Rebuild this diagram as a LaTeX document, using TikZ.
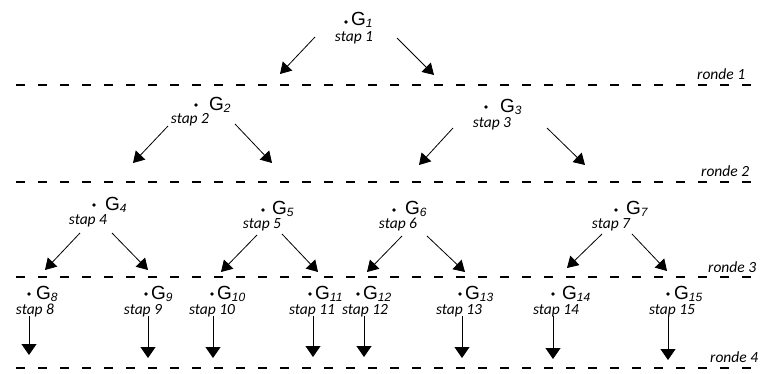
\documentclass[tikz,border=0pt]{standalone}
\usepackage{fontspec}
\setmainfont{Liberation Sans}
\newfontfamily\stapfont{Carlito}
\usetikzlibrary{arrows.meta}

% G with an italic index
\newcommand\gname[1]{G\raisebox{-2.5pt}{\fontsize{12}{12}\selectfont\itshape #1}}

\tikzset{
  dotn/.style={circle, fill=black, inner sep=0pt, minimum size=3.8pt},
  glab/.style={anchor=base west, inner sep=0pt, font=\fontsize{19}{19}\selectfont},
  staplab/.style={anchor=base, inner sep=0pt, font=\stapfont\itshape\fontsize{15.5}{15.5}\selectfont},
  rondelab/.style={anchor=base west, inner sep=0pt, font=\stapfont\itshape\fontsize{15.5}{15.5}\selectfont},
  roundline/.style={line width=1.3pt, dash pattern=on 9pt off 13pt},
  splitarrow/.style={line width=0.8pt, -{Triangle[width=13pt,length=11pt]}},
  downarrow/.style={line width=0.9pt, -{Triangle[width=15pt,length=11pt]}},
}

% #1 name, #2 dot, #3 G label position, #4 index, #5 stap position, #6 stap text
\newcommand\gvertex[6]{%
  \node[dotn] (#1) at (#2) {};
  \node[glab] (#1l) at (#3) {\gname{#4}};
  \node[staplab] (#1s) at (#5) {#6};
}

\begin{document}
\begin{tikzpicture}[x=1pt, y=-1pt]
  \useasboundingbox (0,0) rectangle (764,373);

  % round separators
  \coordinate (r1a) at (16,85);  \coordinate (r1b) at (758,85);
  \coordinate (r2a) at (16,182); \coordinate (r2b) at (758,182);
  \coordinate (r3a) at (16,277); \coordinate (r3b) at (758,277);
  \coordinate (r4a) at (16,368); \coordinate (r4b) at (758,368);
  \draw[roundline] (r1a) -- (r1b);
  \draw[roundline] (r2a) -- (r2b);
  \draw[roundline] (r3a) -- (r3b);
  \draw[roundline] (r4a) -- (r4b);
  \node[rondelab] (ronde1) at (697,79)  {ronde 1};
  \node[rondelab] (ronde2) at (701,176) {ronde 2};
  \node[rondelab] (ronde3) at (708,272) {ronde 3};
  \node[rondelab] (ronde4) at (710,362) {ronde 4};

  % level 1
  \gvertex{g1}{346,22}{351,25}{1}{354,41}{stap 1}
  \coordinate (g1a) at (315,37);  \coordinate (g1b) at (397,38);
  \coordinate (e1a) at (280,74);  \coordinate (e1b) at (434,75);
  \draw[splitarrow] (g1a) -- (e1a);
  \draw[splitarrow] (g1b) -- (e1b);

  % level 2
  \gvertex{g2}{196,105}{209,110}{2}{190,123}{stap 2}
  \coordinate (g2a) at (168,126); \coordinate (g2b) at (235,124);
  \coordinate (e2a) at (133,163); \coordinate (e2b) at (272,163);
  \draw[splitarrow] (g2a) -- (e2a);
  \draw[splitarrow] (g2b) -- (e2b);

  \gvertex{g3}{486,107}{500,112}{3}{492,127}{stap 3}
  \coordinate (g3a) at (453,128); \coordinate (g3b) at (547,128);
  \coordinate (e3a) at (419,165); \coordinate (e3b) at (585,165);
  \draw[splitarrow] (g3a) -- (e3a);
  \draw[splitarrow] (g3b) -- (e3b);

  % level 3
  \gvertex{g4}{94,205}{105,210}{4}{88,224}{stap 4}
  \coordinate (g4a) at (80,233);  \coordinate (g4b) at (112,233);
  \coordinate (e4a) at (45,270);  \coordinate (e4b) at (148,270);
  \draw[splitarrow] (g4a) -- (e4a);
  \draw[splitarrow] (g4b) -- (e4b);

  \gvertex{g5}{263,210}{272,214}{5}{262,228}{stap 5}
  \coordinate (g5a) at (257,235); \coordinate (g5b) at (282,234);
  \coordinate (e5a) at (221,272); \coordinate (e5b) at (318,272);
  \draw[splitarrow] (g5a) -- (e5a);
  \draw[splitarrow] (g5b) -- (e5b);

  \gvertex{g6}{394,210}{405,214}{6}{398,228}{stap 6}
  \coordinate (g6a) at (402,236); \coordinate (g6b) at (427,236);
  \coordinate (e6a) at (367,272); \coordinate (e6b) at (465,272);
  \draw[splitarrow] (g6a) -- (e6a);
  \draw[splitarrow] (g6b) -- (e6b);

  \gvertex{g7}{616,210}{626,214}{7}{611,228}{stap 7}
  \coordinate (g7a) at (602,234); \coordinate (g7b) at (632,234);
  \coordinate (e7a) at (567,268); \coordinate (e7b) at (667,271);
  \draw[splitarrow] (g7a) -- (e7a);
  \draw[splitarrow] (g7b) -- (e7b);

  % level 4
  \gvertex{g8}{29,294}{36,299}{8}{35,314}{stap 8}
  \gvertex{g9}{146,294}{151,299}{9}{143,314}{stap 9}
  \gvertex{g10}{212,294}{217,299}{10}{212,314}{stap 10}
  \gvertex{g11}{310,294}{315,299}{11}{312,314}{stap 11}
  \gvertex{g12}{358,294}{363,299}{12}{365,314}{stap 12}
  \gvertex{g13}{460,294}{465,299}{13}{459,314}{stap 13}
  \gvertex{g14}{553,294}{562,299}{14}{556,314}{stap 14}
  \gvertex{g15}{668,294}{674,299}{15}{672,314}{stap 15}

  \coordinate (g8t) at (29,316);   \coordinate (e8) at (29,355);
  \coordinate (g9t) at (148,316);  \coordinate (e9) at (148,358);
  \coordinate (g10t) at (213,316); \coordinate (e10) at (213,358);
  \coordinate (g11t) at (313,316); \coordinate (e11) at (313,357);
  \coordinate (g12t) at (364,316); \coordinate (e12) at (364,357);
  \coordinate (g13t) at (462,316); \coordinate (e13) at (462,358);
  \coordinate (g14t) at (553,316); \coordinate (e14) at (553,359);
  \coordinate (g15t) at (668,316); \coordinate (e15) at (668,360);
  \draw[downarrow] (g8t) -- (e8);
  \draw[downarrow] (g9t) -- (e9);
  \draw[downarrow] (g10t) -- (e10);
  \draw[downarrow] (g11t) -- (e11);
  \draw[downarrow] (g12t) -- (e12);
  \draw[downarrow] (g13t) -- (e13);
  \draw[downarrow] (g14t) -- (e14);
  \draw[downarrow] (g15t) -- (e15);
\end{tikzpicture}
\end{document}
